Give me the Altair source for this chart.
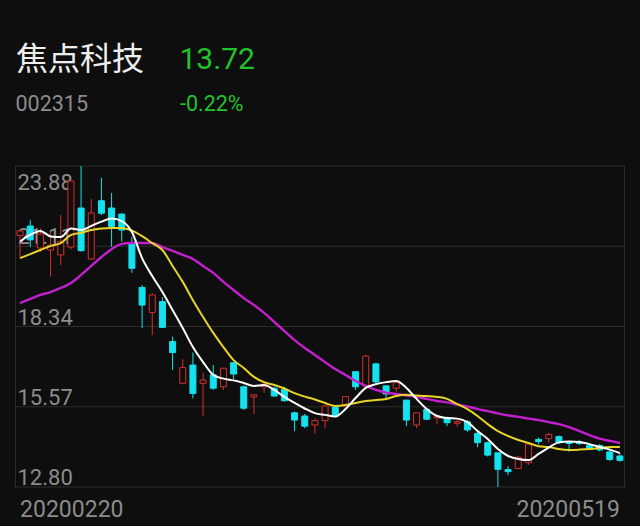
import altair as alt
import pandas as pd
import jinja2

# ---------------- data ----------------
stock_name = "焦点科技"
stock_code = "002315"
last_price = "13.72"
change_pct = "-0.22%"

dates = ["20200220", "20200221", "20200224", "20200225", "20200226", "20200227", "20200228",
         "20200302", "20200303", "20200304", "20200305", "20200306", "20200309", "20200310",
         "20200311", "20200312", "20200313", "20200316", "20200317", "20200318", "20200319",
         "20200320", "20200323", "20200324", "20200325", "20200326", "20200327", "20200330",
         "20200331", "20200401", "20200402", "20200403", "20200407", "20200408", "20200409",
         "20200410", "20200413", "20200414", "20200415", "20200416", "20200417", "20200420",
         "20200421", "20200422", "20200423", "20200424", "20200427", "20200428", "20200429",
         "20200430", "20200506", "20200507", "20200508", "20200511", "20200512", "20200513",
         "20200514", "20200515", "20200518", "20200519"]

opens = [21.48, 21.81, 21.05, 20.98, 20.81, 21.08, 22.43, 20.67, 22.68, 22.43,
         22.22, 21.23, 19.69, 18.82, 19.20, 17.82, 16.38, 17.01, 16.38, 16.67,
         16.26, 17.09, 16.26, 15.91, 16.26, 16.21, 16.17, 15.36, 15.25, 14.94,
         15.09, 15.55, 15.60, 16.78, 16.29, 17.05, 16.29, 16.21, 15.80, 14.94,
         15.48, 15.19, 15.19, 15.00, 15.05, 14.65, 14.33, 13.98, 13.40, 13.44,
         13.64, 14.44, 14.47, 14.54, 14.33, 14.35, 14.23, 14.23, 14.01, 13.87]
closes = [21.64, 21.33, 21.53, 21.15, 21.27, 23.36, 20.96, 22.26, 22.25, 21.79,
          21.67, 20.35, 19.08, 19.43, 18.31, 17.44, 16.92, 16.03, 16.49, 16.21,
          16.90, 16.70, 15.52, 15.98, 16.35, 15.94, 15.78, 15.11, 14.90, 15.09,
          15.60, 15.28, 15.92, 16.26, 17.32, 16.43, 16.01, 16.40, 15.11, 15.36,
          15.14, 15.25, 15.02, 15.05, 14.77, 14.33, 13.90, 13.41, 13.33, 13.83,
          14.28, 14.37, 14.61, 14.33, 14.30, 14.30, 14.11, 14.08, 13.75, 13.72]
highs = [21.68, 22.02, 21.74, 21.60, 22.19, 23.40, 23.88, 22.74, 23.47, 22.95,
         22.26, 21.43, 19.77, 19.49, 19.35, 17.99, 17.21, 17.44, 16.75, 17.01,
         16.91, 17.11, 16.30, 16.01, 16.40, 16.26, 16.26, 15.40, 15.32, 15.17,
         15.63, 15.63, 15.94, 16.78, 17.36, 17.09, 16.32, 16.47, 15.80, 15.36,
         15.52, 15.28, 15.23, 15.11, 15.11, 14.77, 14.36, 13.98, 13.52, 13.87,
         14.31, 14.51, 14.67, 14.58, 14.36, 14.42, 14.28, 14.28, 14.06, 13.96]
lows = [20.70, 21.08, 20.91, 20.06, 20.46, 21.00, 20.92, 20.64, 22.19, 21.09,
        21.27, 20.19, 18.28, 18.05, 18.28, 16.84, 16.34, 15.86, 15.25, 16.15,
        16.15, 16.52, 15.46, 15.32, 16.05, 15.91, 15.74, 14.73, 14.83, 14.63,
        14.83, 15.23, 15.57, 16.15, 16.26, 16.32, 15.86, 16.09, 14.90, 14.83,
        15.11, 14.97, 14.90, 14.88, 14.71, 14.17, 13.85, 12.80, 13.21, 13.44,
        13.56, 14.27, 14.33, 14.28, 14.02, 14.25, 14.08, 14.03, 13.70, 13.67]

ma5 = [21.27, 21.50, 21.64, 21.45, 21.43, 21.72, 21.67, 21.81, 21.96, 22.07,
       21.98, 21.60, 20.70, 20.08, 19.53, 18.91, 18.29, 17.63, 17.11, 16.67,
       16.54, 16.48, 16.39, 16.29, 16.32, 16.15, 15.91, 15.70, 15.51, 15.35,
       15.29, 15.23, 15.49, 15.87, 16.22, 16.35, 16.42, 16.46, 16.22, 15.84,
       15.49, 15.25, 15.18, 15.16, 15.04, 14.73, 14.46, 14.11, 13.87, 13.77,
       13.73, 13.94, 14.16, 14.34, 14.37, 14.35, 14.28, 14.18, 14.09, 13.97]
ma10 = [20.70, 20.84, 20.98, 21.12, 21.22, 21.50, 21.57, 21.67, 21.72, 21.74,
        21.74, 21.65, 21.46, 21.22, 20.98, 20.43, 19.88, 19.25, 18.67, 18.12,
        17.63, 17.18, 16.91, 16.60, 16.42, 16.32, 16.20, 16.04, 15.92, 15.82,
        15.70, 15.60, 15.63, 15.70, 15.77, 15.80, 15.84, 15.94, 15.98, 15.96,
        15.94, 15.91, 15.84, 15.66, 15.49, 15.25, 14.97, 14.73, 14.56, 14.42,
        14.32, 14.21, 14.18, 14.11, 14.08, 14.09, 14.11, 14.15, 14.18, 14.18]
ma20 = [19.15, 19.29, 19.43, 19.53, 19.67, 19.84, 20.12, 20.43, 20.74, 21.01,
        21.19, 21.22, 21.22, 21.22, 21.08, 20.95, 20.81, 20.67, 20.43, 20.19,
        19.88, 19.60, 19.32, 19.08, 18.81, 18.50, 18.18, 17.87, 17.60, 17.36,
        17.11, 16.87, 16.67, 16.46, 16.29, 16.15, 16.06, 16.01, 15.96, 15.91,
        15.84, 15.77, 15.72, 15.65, 15.58, 15.49, 15.42, 15.34, 15.27, 15.22,
        15.16, 15.11, 15.04, 14.97, 14.87, 14.73, 14.59, 14.47, 14.39, 14.32]

tick_values = [23.88, 21.11, 18.34, 15.57, 12.80]
tick_labels = ["23.88", "21.11", "18.34", "15.57", "12.80"]

# ---------------- styling ----------------
BG = "#0e0e0e"
RED = "#d4302e"
CYAN = "#14e2ee"
GRID = "#2c2c2c"
GREY = "#8c8c8c"
GREEN = "#22c22c"
W, H = 610, 321

df = pd.DataFrame({"date": dates, "open": opens, "close": closes, "high": highs,
                   "low": lows, "ma5": ma5, "ma10": ma10, "ma20": ma20})
df["up"] = df["close"] >= df["open"]

ticks = pd.DataFrame({"v": tick_values, "label": tick_labels})
date_labels = pd.DataFrame({"date": [dates[0], dates[-1]]})

xs = alt.Scale(type="point", padding=0.5, domain=dates)
ys = alt.Scale(domain=[12.80, 23.88], zero=False, nice=False)

X = alt.X("date:O", scale=xs, axis=None)

grid = alt.Chart(ticks).mark_rule(color=GRID, strokeWidth=1).encode(
    y=alt.Y("v:Q", scale=ys, axis=None))

borders = alt.Chart(pd.DataFrame({"side": [0, 1]})).mark_rule(color=GRID, strokeWidth=1).encode(
    x=alt.X("side:Q", scale=alt.Scale(domain=[0, 1], range=[0.5, W - 0.5]), axis=None),
    y=alt.value(0), y2=alt.value(H))

top_label = alt.Chart(ticks.iloc[:1]).mark_text(
    align="left", baseline="top", dy=7, font="Roboto", fontSize=22, color=GREY).encode(
    x=alt.value(2.5), y=alt.Y("v:Q", scale=ys, axis=None), text="label:N")
other_labels = alt.Chart(ticks.iloc[1:]).mark_text(
    align="left", baseline="alphabetic", dy=-2, font="Roboto", fontSize=22, color=GREY).encode(
    x=alt.value(2.5), y=alt.Y("v:Q", scale=ys, axis=None), text="label:N")

base = alt.Chart(df)
wicks = base.mark_rule(strokeWidth=1).encode(
    x=X,
    y=alt.Y("low:Q", scale=ys, axis=None), y2="high:Q",
    color=alt.condition("datum.up", alt.value(RED), alt.value(CYAN)))
bodies = base.mark_bar(size=6, strokeWidth=1).encode(
    x=X,
    y=alt.Y("open:Q", scale=ys, axis=None), y2="close:Q",
    fill=alt.condition("datum.up", alt.value(BG), alt.value(CYAN)),
    stroke=alt.condition("datum.up", alt.value(RED), alt.value(CYAN)))

line5 = base.mark_line(color="#ffffff", strokeWidth=2, interpolate="monotone").encode(
    x=X, y=alt.Y("ma5:Q", scale=ys, axis=None))
line10 = base.mark_line(color="#e6d428", strokeWidth=2, interpolate="monotone").encode(
    x=X, y=alt.Y("ma10:Q", scale=ys, axis=None))
line20 = base.mark_line(color="#c41fce", strokeWidth=2.4, interpolate="monotone").encode(
    x=X, y=alt.Y("ma20:Q", scale=ys, axis=None))

first_date = alt.Chart(date_labels.iloc[:1]).mark_text(
    align="left", baseline="alphabetic", font="Roboto", fontSize=23, color=GREY).encode(
    x=X, y=alt.value(350.5), text="date:N")
last_date = alt.Chart(date_labels.iloc[1:]).mark_text(
    align="right", baseline="alphabetic", font="Roboto", fontSize=23, color=GREY).encode(
    x=X, y=alt.value(350.5), text="date:N")

header = pd.DataFrame({"t": [stock_name, last_price, stock_code, change_pct]})
name_txt = alt.Chart(header.iloc[[0]]).mark_text(
    align="left", baseline="alphabetic", font="Noto Sans CJK SC", fontSize=32, color="#eeeeee").encode(
    x=alt.value(1), y=alt.value(-96), text="t:N")
price_txt = alt.Chart(header.iloc[[1]]).mark_text(
    align="left", baseline="alphabetic", font="Roboto", fontSize=30, color=GREEN).encode(
    x=alt.value(164.5), y=alt.value(-97.5), text="t:N")
code_txt = alt.Chart(header.iloc[[2]]).mark_text(
    align="left", baseline="alphabetic", font="Roboto", fontSize=21.5, color=GREY).encode(
    x=alt.value(0.5), y=alt.value(-55), text="t:N")
pct_txt = alt.Chart(header.iloc[[3]]).mark_text(
    align="left", baseline="alphabetic", font="Roboto", fontSize=21.5, color=GREEN).encode(
    x=alt.value(165), y=alt.value(-55), text="t:N")

chart = alt.layer(
    grid, borders, top_label, other_labels, wicks, bodies, line20, line10, line5,
    first_date, last_date, name_txt, price_txt, code_txt, pct_txt
).properties(
    width=W, height=H,
    padding={"left": 7, "top": 158, "right": 7, "bottom": 38},
    autosize=alt.AutoSizeParams(type="none"),
    background=BG,
).configure_view(stroke=None)

TEMPLATE = jinja2.Template("""<!DOCTYPE html>
<html>
<head>
<meta charset="utf-8">
<style>html, body { background: #0e0e0e; }</style>
<script type="text/javascript" src="{{ base_url }}/vega@{{ vega_version }}"></script>
<script type="text/javascript" src="{{ base_url }}/vega-lite@{{ vegalite_version }}"></script>
<script type="text/javascript" src="{{ base_url }}/vega-embed@{{ vegaembed_version }}"></script>
</head>
<body>
<div id="{{ output_div }}"></div>
<script type="text/javascript">
  var spec = {{ spec }};
  var embedOpt = {{ embed_options }};
  vegaEmbed("#{{ output_div }}", spec, embedOpt).catch(function (err) { console.error(err); });
</script>
</body>
</html>
""")

chart.save("out.html", embed_options={"renderer": "svg", "actions": False}, template=TEMPLATE)
